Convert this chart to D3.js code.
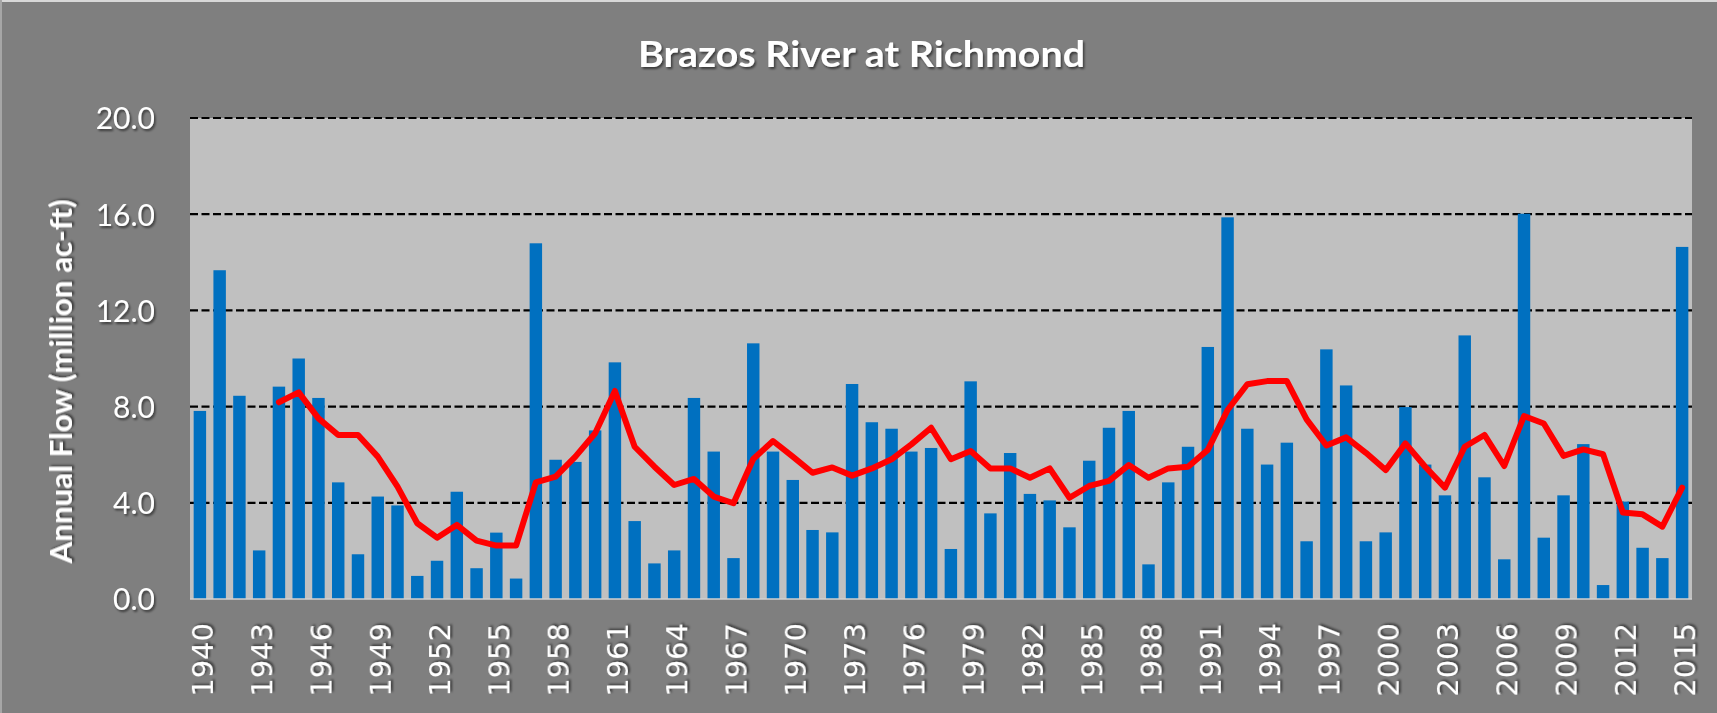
<!DOCTYPE html>
<html>
<head>
<meta charset="utf-8">
<script src="https://cdn.jsdelivr.net/npm/d3@7"></script>
<style>
  body { margin: 0; background: #7f7f7f; }
  svg  { display: block; }
</style>
</head>
<body>
<svg id="chart" width="1717" height="713"></svg>
<script>
//------------------------------------------------------------------------
// Brazos River at Richmond - annual flow with 5 yr average line
//

// Chart data
const years = d3.range(1940, 2016);

const annualFlow = [
   7.82, 13.67,  8.45,  2.02,  8.83, 10.00,  8.36,  4.85,  1.86,  4.26,   // 1940-49
   3.89,  0.96,  1.59,  4.46,  1.28,  2.76,  0.85, 14.79,  5.79,  5.70,   // 1950-59
   7.01,  9.84,  3.24,  1.48,  2.02,  8.36,  6.13,  1.70, 10.63,  6.13,   // 1960-69
   4.95,  2.87,  2.77,  8.94,  7.35,  7.08,  6.13,  6.28,  2.08,  9.05,   // 1970-79
   3.56,  6.07,  4.37,  4.10,  2.98,  5.75,  7.12,  7.82,  1.44,  4.85,   // 1980-89
   6.33, 10.48, 15.87,  7.08,  5.59,  6.50,  2.40, 10.38,  8.88,  2.40,   // 1990-99
   2.77,  7.98,  5.59,  4.31, 10.96,  5.06,  1.65, 16.02,  2.55,  4.31,   // 2000-09
   6.44,  0.58,  4.05,  2.13,  1.70, 14.64                                 // 2010-15
];

// Red line starts in 1944
const avgYears = d3.range(1944, 2016);
const avgFlow = [
   8.18,  8.59,  7.51,  6.82,  6.82,  5.92,                               // 1944-49
   4.67,  3.15,  2.55,  3.08,  2.43,  2.22,  2.22,  4.85,  5.09,  5.92,   // 1950-59
   6.89,  8.65,  6.33,  5.50,  4.74,  4.99,  4.26,  3.98,  5.82,  6.57,   // 1960-69
   5.92,  5.25,  5.47,  5.13,  5.43,  5.81,  6.43,  7.12,  5.81,  6.15,   // 1970-79
   5.43,  5.43,  5.04,  5.43,  4.21,  4.70,  4.91,  5.57,  5.04,  5.43,   // 1980-89
   5.50,  6.20,  7.86,  8.93,  9.06,  9.06,  7.47,  6.38,  6.72,  6.08,   // 1990-99
   5.36,  6.47,  5.50,  4.63,  6.33,  6.82,  5.53,  7.61,  7.30,  5.95,   // 2000-09
   6.22,  6.02,  3.60,  3.52,  3.01,  4.63                                 // 2010-15
];

const yTicks  = [0, 4, 8, 12, 16, 20];
const xLabels = years.filter(y => (y - 1940) % 3 === 0);

// Plot area inside the svg
const plot = {left:190, right:1692, top:118, bottom:599};

const svg = d3.select('#chart');

// Soft drop shadow used on all the white text
const defs = svg.append('defs');
defs.append('filter').attr('id', 'shadow')
    .attr('x', '-20%').attr('y', '-20%').attr('width', '140%').attr('height', '140%')
    .append('feDropShadow')
    .attr('dx', 1.5).attr('dy', 2)
    .attr('stdDeviation', 1.2)
    .attr('flood-color', '#000')
    .attr('flood-opacity', 0.55);

// Chart border bits visible at top and left
svg.append('line').attr('x1', 0).attr('x2', 1717).attr('y1', 1).attr('y2', 1)
   .attr('stroke', '#d8d8d8').attr('stroke-width', 2);
svg.append('line').attr('x1', 1).attr('x2', 1).attr('y1', 0).attr('y2', 713)
   .attr('stroke', '#a6a6a6').attr('stroke-width', 2);

// Scales
const xScale = d3.scaleBand()
    .domain(years)
    .range([plot.left, plot.right])
    .paddingInner(0.37)
    .paddingOuter(0.185);

const yScale = d3.scaleLinear()
    .domain([0, 20])
    .range([plot.bottom, plot.top]);

// Plot area background
svg.append('rect')
   .attr('x', plot.left).attr('y', plot.top)
   .attr('width', plot.right - plot.left)
   .attr('height', plot.bottom - plot.top)
   .attr('fill', '#c0c0c0');

// Dashed gridlines (behind the bars)
svg.append('g').selectAll('line')
   .data(yTicks.filter(d => d > 0)).enter()
   .append('line')
   .attr('x1', plot.left).attr('x2', plot.right)
   .attr('y1', d => yScale(d)).attr('y2', d => yScale(d))
   .attr('stroke', '#000')
   .attr('stroke-width', 2.2)
   .attr('stroke-dasharray', '8,3.5');

// Bars
svg.append('g').selectAll('rect')
   .data(years).enter()
   .append('rect')
   .attr('x', d => xScale(d))
   .attr('width', xScale.bandwidth())
   .attr('y', (d, i) => yScale(annualFlow[i]))
   .attr('height', (d, i) => plot.bottom - yScale(annualFlow[i]))
   .attr('fill', '#0070c0');

// Axis baseline
svg.append('line')
   .attr('x1', plot.left).attr('x2', plot.right)
   .attr('y1', plot.bottom).attr('y2', plot.bottom)
   .attr('stroke', '#d0d0d0').attr('stroke-width', 1.5);

// Moving average line
const line = d3.line()
    .x((d, i) => xScale(avgYears[i]) + xScale.bandwidth() / 2)
    .y(d => yScale(d));

svg.append('path')
   .datum(avgFlow)
   .attr('d', line)
   .attr('fill', 'none')
   .attr('stroke', '#ff0000')
   .attr('stroke-width', 6)
   .attr('stroke-linejoin', 'round')
   .attr('stroke-linecap', 'round');

// Y axis
const yAxis = d3.axisLeft(yScale)
    .tickValues(yTicks)
    .tickFormat(d3.format('.1f'))
    .tickSize(0)
    .tickPadding(35);

const yAxisG = svg.append('g')
    .attr('transform', `translate(${plot.left},0)`)
    .call(yAxis);
yAxisG.select('.domain').remove();
yAxisG.selectAll('text')
      .attr('fill', '#fff')
      .attr('dy', '0.36em')
      .style('font-family', 'Lato, "Open Sans", sans-serif')
      .style('font-size', '30px')
      .attr('filter', 'url(#shadow)');

// X axis, label every third year
const xAxis = d3.axisBottom(xScale)
    .tickValues(xLabels)
    .tickSize(0);

const xAxisG = svg.append('g')
    .attr('transform', `translate(0,${plot.bottom})`)
    .call(xAxis);
xAxisG.select('.domain').remove();
xAxisG.selectAll('text')
      .attr('transform', 'rotate(-90)')
      .attr('x', -24)
      .attr('y', 3)
      .attr('dy', '0.36em')
      .style('text-anchor', 'end')
      .attr('fill', '#fff')
      .style('font-family', '"DejaVu Sans", Verdana, sans-serif')
      .style('font-size', '29px')
      .attr('filter', 'url(#shadow)');

// Title
svg.append('text')
   .attr('x', 861.5).attr('y', 66.5)
   .attr('text-anchor', 'middle')
   .attr('textLength', 447)
   .attr('lengthAdjust', 'spacingAndGlyphs')
   .attr('fill', '#fff')
   .style('font-family', 'Lato, "Open Sans", sans-serif')
   .style('font-weight', 'bold')
   .style('font-size', '37px')
   .attr('filter', 'url(#shadow)')
   .text('Brazos River at Richmond');

// Y axis title
svg.append('text')
   .attr('transform', 'translate(72,381.5) rotate(-90)')
   .attr('text-anchor', 'middle')
   .attr('textLength', 364)
   .attr('lengthAdjust', 'spacingAndGlyphs')
   .attr('fill', '#fff')
   .style('font-family', 'Lato, "Open Sans", sans-serif')
   .style('font-weight', 'bold')
   .style('font-size', '31px')
   .attr('filter', 'url(#shadow)')
   .text('Annual Flow (million ac-ft)');
</script>
</body>
</html>
